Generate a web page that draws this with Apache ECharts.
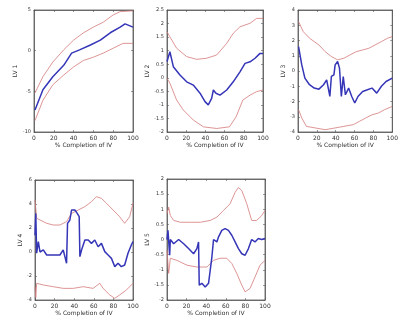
<!DOCTYPE html>
<html>
<head>
<meta charset="utf-8">
<style>
  html, body { margin: 0; padding: 0; background: #fff; }
  #chart { width: 401px; height: 325px; }
</style>
<script src="https://cdn.jsdelivr.net/npm/echarts@6/dist/echarts.min.js"></script>
</head>
<body>
<div id="chart"></div>
<script>
// Latent-variable score trajectories over batch completion: mean (blue) with upper/lower limits (red)

const xTicks = [0, 20, 40, 60, 80, 100];
const xLabel = '% Completion of IV';
const yNames = ['LV 1', 'LV 2', 'LV 3', 'LV 4', 'LV 5'];

// y-axis ranges per panel: [min, max, interval]
const yRanges = [
  [-10, 5, 5],
  [-2, 2.5, 0.5],
  [-4, 4, 1],
  [-4, 6, 2],
  [-2, 2, 0.5]
];

// LV 1
const lv1Mean = [[1,-7.3],[9,-4.8],[19,-3.2],[30,-1.8],[38,-0.3],[46,0.1],[57,0.7],[67,1.3],[77,2.2],[87,2.9],[92,3.3],[100,2.9]];
const lv1Upper = [[1,-5.2],[9,-3.2],[19,-1.4],[30,0.1],[40,1.3],[50,2.2],[60,2.9],[70,3.5],[80,4.4],[87,4.8],[100,4.9]];
const lv1Lower = [[1,-8.6],[9,-6.1],[19,-4.2],[30,-3.0],[40,-2.0],[50,-1.2],[60,-0.8],[70,-0.3],[80,0.3],[90,0.9],[100,0.9]];

// LV 2
const lv2Mean = [[0,0.6],[3,0.96],[6.6,0.41],[13.5,0.1],[20.5,-0.15],[27.4,-0.27],[34.4,-0.57],[39.6,-0.88],[43,-1.0],[46.5,-0.76],[48.3,-0.45],[51,-0.57],[55.2,-0.64],[62.2,-0.45],[69,-0.15],[76,0.22],[81.3,0.53],[86.5,0.59],[91.7,0.72],[96.9,0.9],[100,0.9]];
const lv2Upper = [[0,1.7],[3,1.51],[10,1.09],[20.5,0.78],[31,0.68],[41.3,0.72],[51.7,0.84],[62.2,1.27],[69,1.64],[76,1.88],[86.5,2.01],[93.4,2.19],[100,2.19]];
const lv2Lower = [[0,-0.02],[3,-0.2],[10,-0.82],[17,-1.19],[27.4,-1.56],[38,-1.81],[51.7,-1.87],[65,-1.81],[72,-1.44],[79,-0.82],[86.5,-0.64],[93.4,-0.51],[100,-0.45]];

// LV 3
const lv3Mean = [[0.6,1.6],[4,0.4],[7.3,-0.47],[12.2,-0.9],[17.2,-1.12],[22.2,-1.19],[27.1,-0.9],[30.4,-0.58],[33.8,-1.67],[35.4,-0.36],[38.1,-0.25],[39.4,0.4],[42,0.62],[44,0.19],[46,-1.67],[48,-0.36],[50.3,-1.56],[53.7,-1.12],[57,-1.67],[60.2,-2.1],[63.6,-1.67],[68.6,-1.34],[73.6,-1.23],[78.5,-1.12],[83.5,-1.45],[88.5,-1.0],[93.4,-0.69],[100,-0.47]];
const lv3Upper = [[0.6,3.24],[5.6,2.58],[12.2,2.15],[22.2,1.71],[28.8,1.27],[35.4,0.95],[42,0.73],[48.7,0.84],[55.3,1.06],[61.9,1.27],[68.6,1.38],[75.1,1.49],[81.8,1.71],[88.5,1.93],[95,2.15],[100,2.26]];
const lv3Lower = [[0.6,-2.54],[4,-3.08],[8.9,-3.63],[18.9,-3.74],[28.8,-3.85],[38.8,-3.74],[48.7,-3.63],[58.6,-3.52],[65.2,-3.3],[71.9,-3.08],[78.5,-2.87],[85.1,-2.76],[91.7,-2.54],[100,-2.32]];

// LV 4
const lv4Mean = [[0,1.4],[0.8,3.2],[1.7,-0.1],[3.4,0.86],[5.1,0.0],[8.5,0.17],[11.9,-0.25],[18.6,-0.25],[25.4,-0.25],[28.8,0.17],[30.5,-0.39],[32.2,-0.94],[33.2,2.39],[35.6,2.67],[37.3,3.5],[40.7,3.5],[43.1,3.22],[45.1,2.94],[45.8,-0.39],[47.5,0.17],[50.9,1.0],[54.3,1.0],[57.6,0.72],[61,1.0],[64.4,0.44],[67.8,0.72],[71.2,0.03],[74.6,-0.25],[78,-0.53],[81.4,-1.22],[84.7,-0.94],[88.1,-1.22],[91.5,-1.08],[94.9,-0.11],[98.3,0.58],[100,0.86]];
const lv4Upper = [[0,4.33],[1.7,2.81],[5.1,2.67],[11.9,2.39],[18.6,2.25],[25.4,2.25],[32.2,2.53],[37.3,3.22],[44.1,3.5],[50.9,3.78],[57.6,4.19],[62.7,4.61],[67.8,4.47],[72.9,4.06],[79.7,3.5],[86.4,2.94],[91.5,2.39],[96.6,2.94],[100,4.06]];
const lv4Lower = [[0,-2.89],[0.8,-3.8],[1.7,-2.61],[8.5,-2.75],[18.6,-2.89],[28.8,-3.03],[39,-3.03],[49.2,-2.89],[59.3,-3.03],[66.1,-2.61],[69.5,-3.03],[76.3,-3.58],[81.4,-3.86],[86.4,-3.58],[93.2,-3.17],[100,-2.61]];

// LV 5
const lv5Mean = [[0,0],[1,0.3],[2.7,-0.52],[3.4,0],[6.8,-0.14],[11.9,0],[17,-0.14],[22,-0.3],[27.1,-0.47],[30.5,-0.3],[32.2,-0.08],[32.9,-1.51],[35.6,-1.45],[39,-1.57],[42.4,-1.45],[44.1,-1.4],[45.8,-0.58],[47.5,0],[50.9,-0.08],[52.5,0.08],[55.9,0.3],[59.3,0.36],[62.7,0.3],[66.1,0.14],[69.5,-0.08],[72.9,-0.3],[76.3,-0.47],[79.7,-0.52],[83.1,-0.3],[86.4,0],[89.8,-0.08],[93.2,0.03],[96.6,0],[100,0.03]];
const lv5Upper = [[0,0.85],[1.7,1.07],[3.4,0.79],[6.8,0.63],[13.6,0.57],[23.7,0.57],[33.9,0.57],[44.1,0.63],[50.9,0.74],[57.6,0.96],[64.4,1.18],[69.5,1.56],[72.9,1.72],[76.3,1.62],[81.4,1.18],[86.4,0.63],[91.5,0.63],[96.6,0.79],[100,0.96]];
const lv5Lower = [[0,-0.35],[1.7,-1.12],[3.4,-0.62],[10.2,-0.69],[20.4,-0.85],[30.5,-0.91],[40.7,-0.91],[47.5,-0.69],[54.2,-0.62],[61,-0.62],[66.1,-0.79],[71.2,-1.12],[76.3,-1.51],[79.7,-1.73],[84.7,-1.62],[89.8,-1.24],[94.9,-0.85],[100,-0.69]];

const panels = [
  [lv1Mean, lv1Upper, lv1Lower],
  [lv2Mean, lv2Upper, lv2Lower],
  [lv3Mean, lv3Upper, lv3Lower],
  [lv4Mean, lv4Upper, lv4Lower],
  [lv5Mean, lv5Upper, lv5Lower]
];

// plot-area boxes in pixels: [left, top, width, height]
const boxes = [
  [34, 10, 99, 122],
  [167, 10, 96, 122],
  [298, 10, 100, 122],
  [35, 180, 98, 120],
  [167, 179, 98, 121]
];

const axisColor = '#555';
const textColor = '#333';
const fontFamily = 'DejaVu Sans';

const grid = [], xAxis = [], yAxis = [], series = [];

boxes.forEach((b, i) => {
  grid.push({ left: b[0], top: b[1], width: b[2], height: b[3],
    show: true, borderColor: axisColor, borderWidth: 0.8, backgroundColor: '#fff' });
  const [ymin, ymax, yint] = yRanges[i];
  const tick = { show: true, inside: true, length: 2, lineStyle: { color: axisColor, width: 0.6 } };
  const line = { show: true, onZero: false, lineStyle: { color: axisColor, width: 0.8 } };
  // bottom and top x axes
  xAxis.push({ gridIndex: i, type: 'value', min: 0, max: 100, interval: 20, position: 'bottom',
    axisLine: line, axisTick: tick, splitLine: { show: false },
    axisLabel: { fontSize: 6, color: textColor, margin: 3, fontFamily },
    name: xLabel, nameLocation: 'middle', nameGap: 10,
    nameTextStyle: { fontSize: 6, color: textColor, fontFamily } });
  xAxis.push({ gridIndex: i, type: 'value', min: 0, max: 100, interval: 20, position: 'top',
    axisLine: line, axisTick: tick, splitLine: { show: false }, axisLabel: { show: false } });
  // left and right y axes
  yAxis.push({ gridIndex: i, type: 'value', min: ymin, max: ymax, interval: yint, position: 'left',
    axisLine: line, axisTick: tick, splitLine: { show: false },
    axisLabel: { fontSize: 5, color: textColor, margin: 3, fontFamily },
    name: yNames[i], nameLocation: 'middle', nameGap: 12, nameRotate: 90,
    nameTextStyle: { fontSize: 6, color: textColor, fontFamily } });
  yAxis.push({ gridIndex: i, type: 'value', min: ymin, max: ymax, interval: yint, position: 'right',
    axisLine: line, axisTick: tick, splitLine: { show: false }, axisLabel: { show: false } });

  const [mean, upper, lower] = panels[i];
  const xi = i * 2, yi = i * 2;
  [upper, lower].forEach(d => series.push({
    type: 'line', xAxisIndex: xi, yAxisIndex: yi, data: d, symbol: 'none', silent: true,
    lineStyle: { color: '#d47a7a', width: 0.8 }, z: 2
  }));
  series.push({
    type: 'line', xAxisIndex: xi, yAxisIndex: yi, data: mean, symbol: 'none', silent: true,
    lineStyle: { color: '#3535b8', width: 1.5 }, z: 3
  });
});

const chart = echarts.init(document.getElementById('chart'), null, { renderer: 'canvas' });
chart.setOption({ animation: false, backgroundColor: '#fff', grid, xAxis, yAxis, series });
</script>
</body>
</html>
